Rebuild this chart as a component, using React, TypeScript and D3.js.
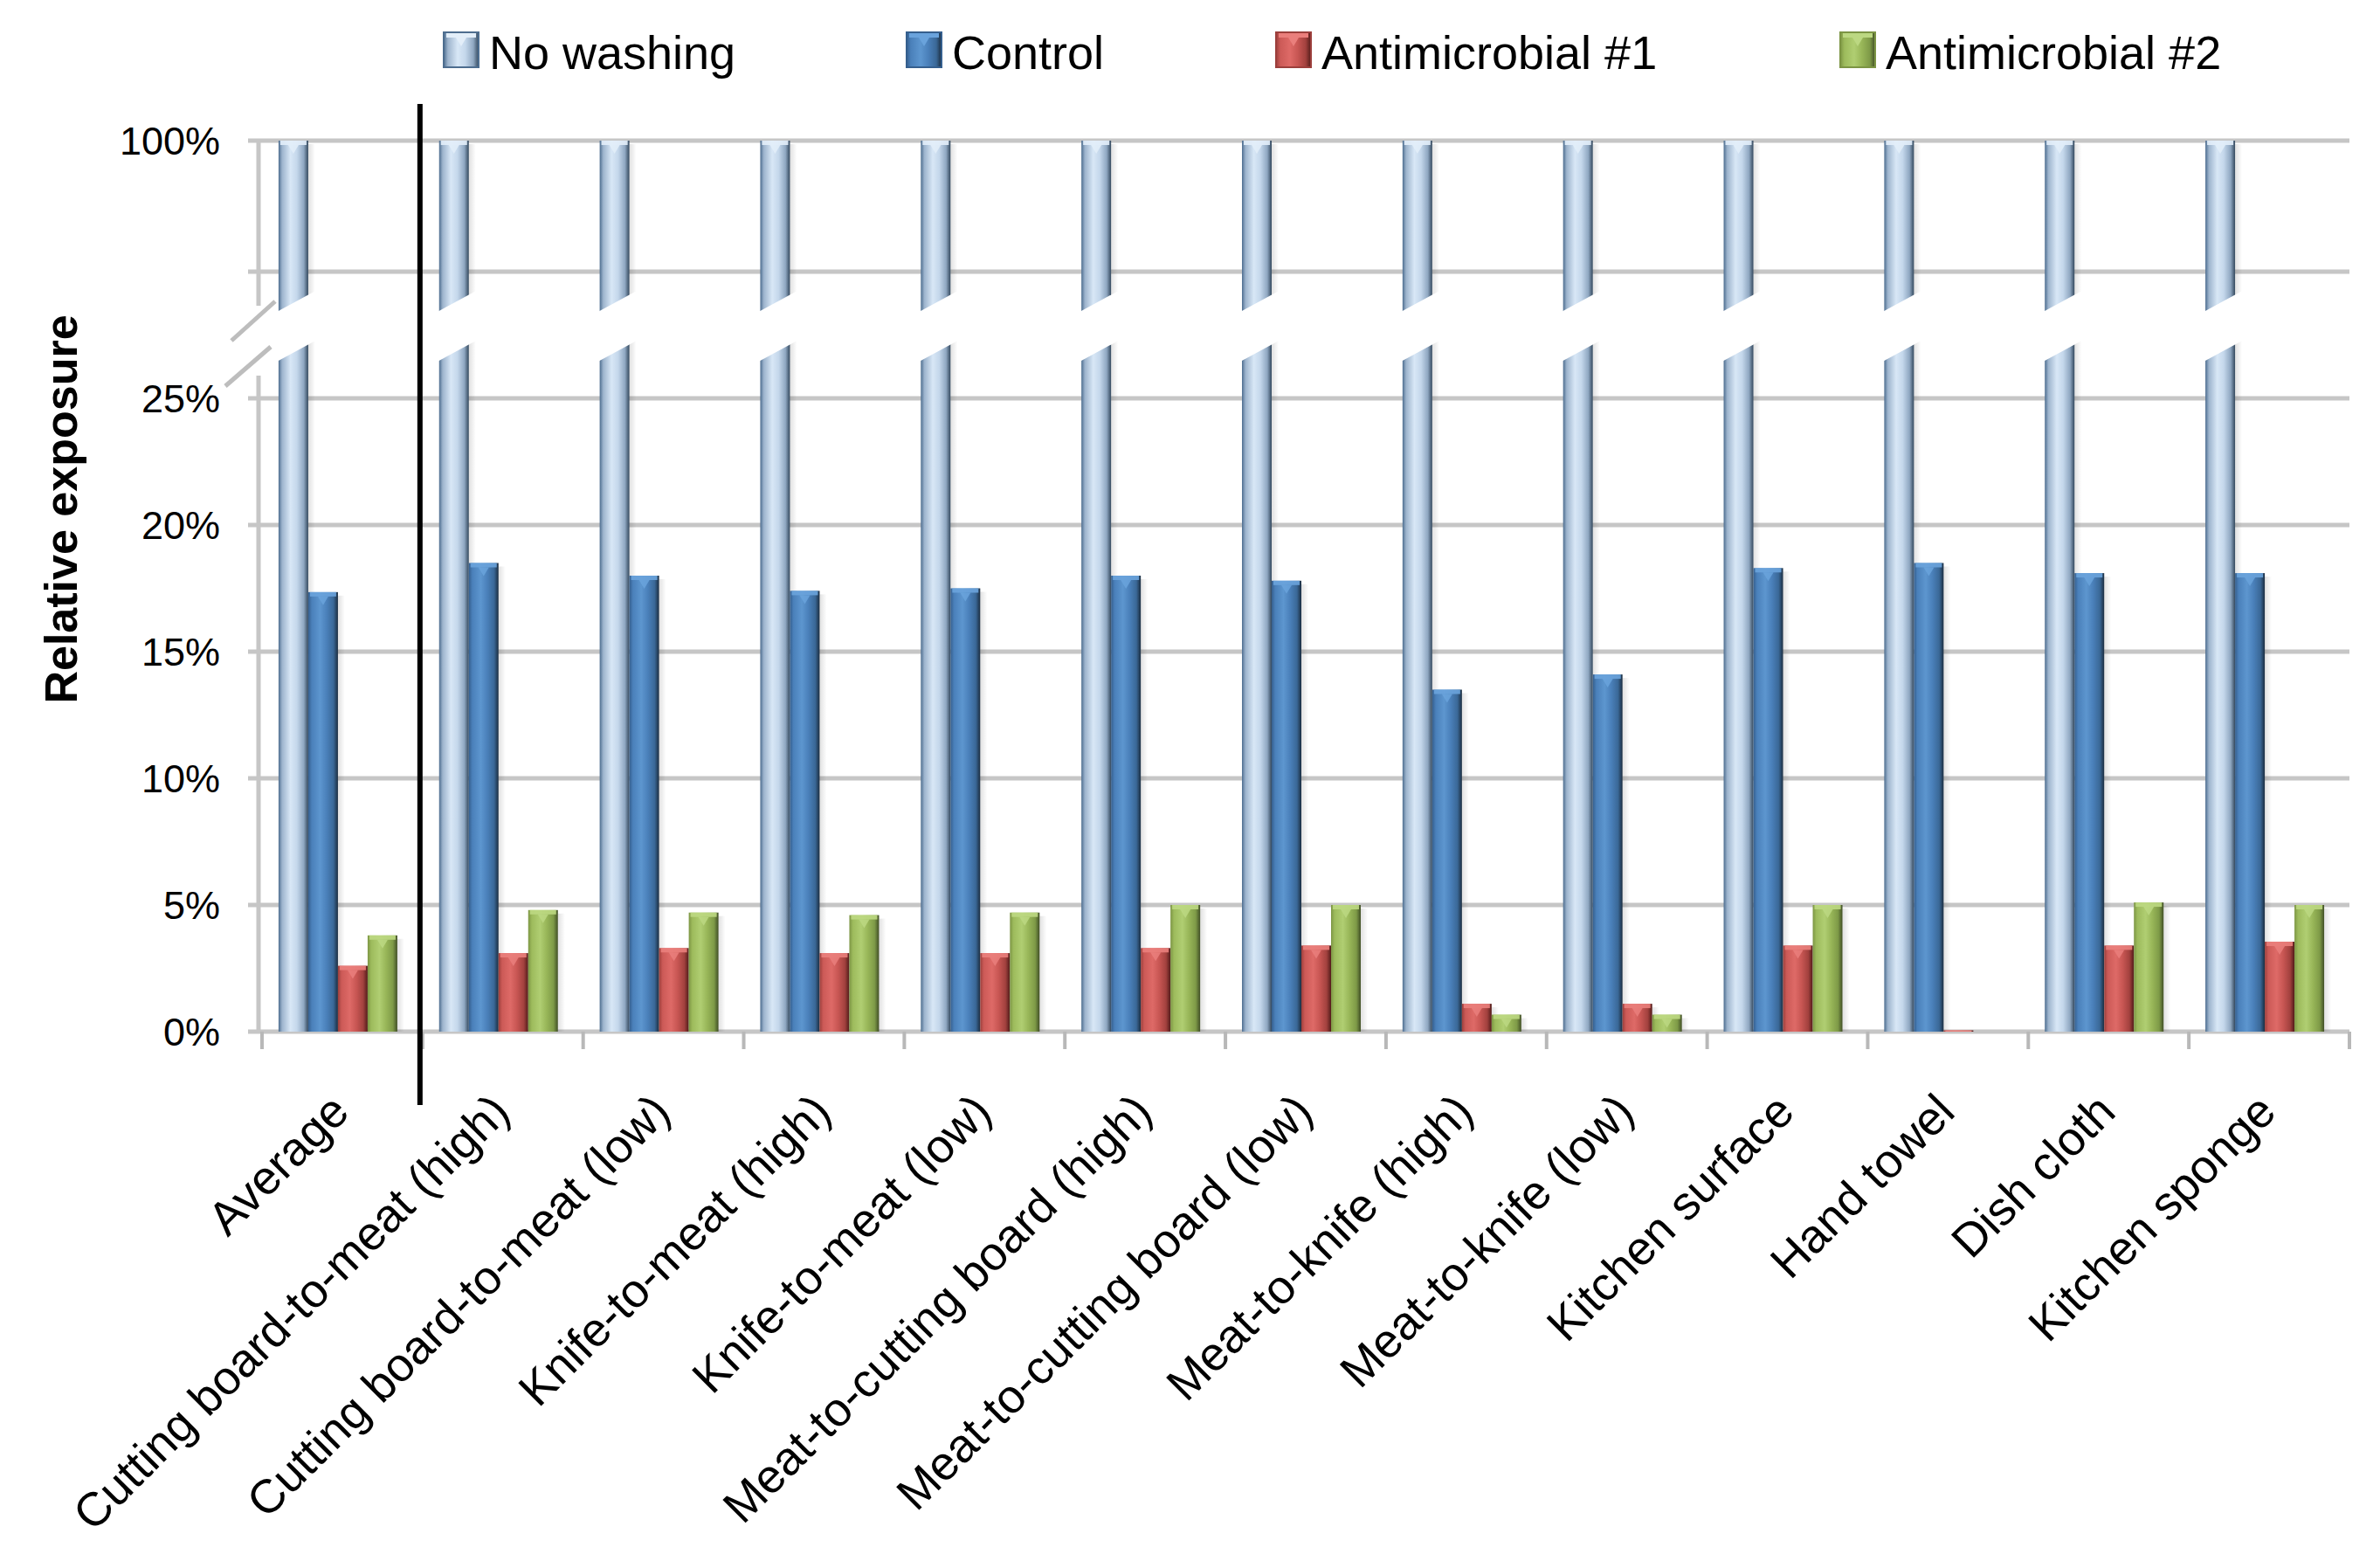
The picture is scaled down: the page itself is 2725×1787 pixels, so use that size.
import React from "react";
import * as d3 from "d3";

const categories = [
  "Average",
  "Cutting board-to-meat (high)",
  "Cutting board-to-meat (low)",
  "Knife-to-meat (high)",
  "Knife-to-meat (low)",
  "Meat-to-cutting board (high)",
  "Meat-to-cutting board (low)",
  "Meat-to-knife (high)",
  "Meat-to-knife (low)",
  "Kitchen surface",
  "Hand towel",
  "Dish cloth",
  "Kitchen sponge",
];
const seriesNames = ["No washing", "Control", "Antimicrobial #1", "Antimicrobial #2"];
const noWashing = [100, 100, 100, 100, 100, 100, 100, 100, 100, 100, 100, 100, 100];
const control = [17.35, 18.5, 18.0, 17.4, 17.5, 18.0, 17.8, 13.5, 14.1, 18.3, 18.5, 18.1, 18.1];
const antimicrobial1 = [2.6, 3.1, 3.3, 3.1, 3.1, 3.3, 3.4, 1.1, 1.1, 3.4, 0.05, 3.4, 3.55];
const antimicrobial2 = [3.8, 4.8, 4.7, 4.6, 4.7, 5.0, 5.0, 0.67, 0.67, 5.0, 0, 5.1, 5.0];
const yTicks = [0, 5, 10, 15, 20, 25, 30, 100];
const yTickLabels = ["0%", "5%", "10%", "15%", "20%", "25%", "", "100%"];

const W = 2725;
const H = 1787;
const FONT = "'Liberation Sans', Arial, sans-serif";

const gradStops: string[][] = [
  ["#4d6d8f", "#9db4cd", "#d8e7f6", "#c4d7eb", "#8fa7c1", "#33485d"],
  ["#355f8e", "#4a80ba", "#5d96cf", "#4a80ba", "#3a6897", "#1b2d40"],
  ["#9c3f3c", "#cc5a57", "#de6a67", "#c85653", "#a2413e", "#521b19"],
  ["#7c9544", "#9dbb5c", "#b0ce72", "#98b658", "#7e9a47", "#414f26"],
];
const stopOffsets = ["0%", "12%", "40%", "62%", "85%", "100%"];
const capColors = ["#e3eef9", "#6aa3dc", "#ea7f7c", "#bcd882"];

export default function App() {
  const series = [noWashing, control, antimicrobial1, antimicrobial2];
  const x0 = d3.scaleBand<string>().domain(categories).range([300, 2690]).paddingInner(0).paddingOuter(0);
  const groupW = 136;
  const x1 = d3.scaleBand<string>().domain(seriesNames).range([0, groupW]);
  const groupOffset = (x0.bandwidth() - groupW) / 2 - 5;
  const y = d3.scaleLinear().domain([0, 30, 100]).range([1181, 311, 161]);
  const bw = x1.bandwidth();
  const axisLeft = 300;
  const axisRight = 2690;
  const breakTop = 350;
  const breakBottom = 430;

  const legendX = [508, 1038, 1461, 2107];

  return (
    <svg
      width={W}
      height={H}
      style={{ position: "absolute", left: 0, top: 0, background: "#fff" }}
      xmlns="http://www.w3.org/2000/svg"
    >
      <defs>
        {gradStops.map((stops, i) => (
          <linearGradient key={i} id={`g${i}`} x1="0" y1="0" x2="1" y2="0">
            {stops.map((c, j) => (
              <stop key={j} offset={stopOffsets[j]} stopColor={c} />
            ))}
          </linearGradient>
        ))}
        <linearGradient id="shadow" x1="0" y1="0" x2="1" y2="0">
          <stop offset="0%" stopColor="#000" stopOpacity={0.12} />
          <stop offset="100%" stopColor="#000" stopOpacity={0} />
        </linearGradient>
      </defs>
      <rect x={0} y={0} width={W} height={H} fill="#fff" />

      {/* gridlines */}
      {yTicks.map((t) => (
        <line
          key={t}
          x1={axisLeft - 16}
          x2={axisRight}
          y1={y(t)}
          y2={y(t)}
          stroke="#c6c6c6"
          strokeWidth={5}
        />
      ))}

      {/* y axis (broken) */}
      <line x1={axisLeft - 4} x2={axisLeft - 4} y1={y(100) - 2} y2={breakTop} stroke="#c6c6c6" strokeWidth={5} />
      <line x1={axisLeft - 4} x2={axisLeft - 4} y1={breakBottom} y2={y(0)} stroke="#c6c6c6" strokeWidth={5} />
      <line x1={265} y1={390} x2={315} y2={345} stroke="#bdbdbd" strokeWidth={5} />
      <line x1={258} y1={442} x2={310} y2={397} stroke="#bdbdbd" strokeWidth={5} />

      {/* x-axis ticks */}
      {categories.map((c, i) => (
        <line
          key={`tk${i}`}
          x1={x0(c)!}
          x2={x0(c)!}
          y1={y(0)}
          y2={y(0) + 20}
          stroke="#b8b8b8"
          strokeWidth={4}
        />
      ))}
      <line x1={axisRight} x2={axisRight} y1={y(0)} y2={y(0) + 20} stroke="#b8b8b8" strokeWidth={4} />

      {/* bars */}
      {categories.map((c, i) => (
        <g key={c} transform={`translate(${x0(c)! + groupOffset},0)`}>
          {series.map((s, si) => {
            const v = s[i];
            const yt = y(v);
            const h = y(0) - yt;
            const bx = x1(seriesNames[si])!;
            if (h < 0.5) {
              return v > 0 ? (
                <rect key={si} x={bx} y={y(0) - 2} width={bw} height={2} fill={gradStops[si][2]} opacity={0.5} />
              ) : null;
            }
            const capH = Math.min(5, h);
            const triH = Math.min(10, Math.max(0, h - capH));
            return (
              <g key={si}>
                <rect x={bx + bw} y={yt + 4} width={8} height={h - 4} fill="url(#shadow)" />
                <rect x={bx} y={yt} width={bw} height={h} fill={`url(#g${si})`} />
                <rect x={bx + 2} y={yt} width={bw - 4} height={capH} fill={capColors[si]} opacity={0.9} />
                {triH > 2 && (
                  <path
                    d={`M${bx + bw / 2 - 6},${yt + capH} L${bx + bw / 2 + 6},${yt + capH} L${bx + bw / 2},${yt + capH + triH} Z`}
                    fill={capColors[si]}
                    opacity={0.85}
                  />
                )}
              </g>
            );
          })}
          {/* break gap through the tall bars */}
          {(() => {
            const bx = x1(seriesNames[0])! - 2;
            const ex = bx + bw + 14;
            const upL = 357;
            const upR = 331;
            const gap = 57;
            return (
              <path
                d={`M${bx},${upL} L${ex},${upR} L${ex},${upR + gap} L${bx},${upL + gap} Z`}
                fill="#fff"
              />
            );
          })()}
        </g>
      ))}

      {/* black separator line */}
      <line
        x1={x0(categories[1])! - 3}
        x2={x0(categories[1])! - 3}
        y1={119}
        y2={1265}
        stroke="#000"
        strokeWidth={6}
      />

      {/* y tick labels */}
      {yTicks.map((t, i) => (
        <text
          key={`yl${t}`}
          x={252}
          y={y(t)}
          textAnchor="end"
          dominantBaseline="central"
          fontFamily={FONT}
          fontSize={45}
          fill="#000"
        >
          {yTickLabels[i]}
        </text>
      ))}

      {/* y axis title */}
      <text
        transform={`translate(70,583) rotate(-90)`}
        textAnchor="middle"
        dominantBaseline="central"
        fontFamily={FONT}
        fontSize={52}
        fontWeight="bold"
        fill="#000"
      >
        Relative exposure
      </text>

      {/* category labels */}
      {categories.map((c) => {
        const cx = x0(c)! + x0.bandwidth() / 2 - 3;
        return (
          <text
            key={`cl${c}`}
            transform={`translate(${cx},1262) rotate(-45)`}
            textAnchor="end"
            dominantBaseline="central"
            fontFamily={FONT}
            fontSize={54}
            fill="#000"
          >
            {c}
          </text>
        );
      })}

      {/* legend */}
      {seriesNames.map((n, i) => (
        <g key={`lg${n}`} transform={`translate(${legendX[i]},37)`}>
          <rect x={0} y={0} width={40} height={40} fill={`url(#g${i})`} stroke={gradStops[i][0]} strokeWidth={2} />
          <rect x={3} y={1} width={34} height={5} fill={capColors[i]} />
          <path d="M14,6 L26,6 L20,16 Z" fill={capColors[i]} />
          <text x={52} y={42} fontFamily={FONT} fontSize={54} fill="#000">
            {n}
          </text>
        </g>
      ))}
    </svg>
  );
}
